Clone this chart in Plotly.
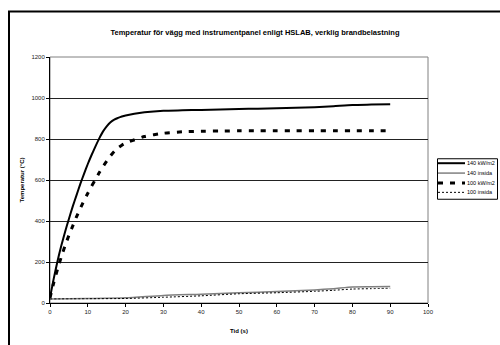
import plotly.graph_objects as go

# ---- data ----
t_140 = [0, 1, 2, 3, 4, 5, 6, 7, 8, 9, 10, 11, 12, 13, 14, 15, 16, 17, 18, 19, 20,
         25, 30, 35, 40, 45, 50, 55, 60, 65, 70, 75, 80, 85, 90]
v_140 = [25, 120, 205, 280, 348, 410, 470, 525, 580, 630, 678, 722, 763, 802, 836,
         862, 882, 895, 903, 910, 915, 930, 938, 940, 942, 944, 946, 948, 950, 952,
         955, 960, 966, 968, 970]

t_140i = [0, 10, 20, 30, 40, 50, 60, 70, 75, 80, 85, 90]
v_140i = [20, 22, 25, 37, 43, 50, 56, 64, 70, 78, 79, 80]

t_100 = [0, 1, 2, 3, 4, 5, 6, 7, 8, 9, 10, 11, 12, 13, 14, 15, 16, 17, 18, 19, 20,
         25, 30, 35, 40, 45, 50, 55, 60, 65, 70, 75, 80, 85, 90]
v_100 = [25, 100, 165, 225, 280, 330, 375, 420, 460, 500, 535, 570, 602, 635, 665,
         692, 718, 740, 757, 770, 780, 812, 828, 835, 838, 839, 840, 840, 840, 840,
         840, 840, 840, 840, 840]

t_100i = [0, 10, 20, 30, 40, 50, 60, 70, 75, 80, 85, 90]
v_100i = [20, 21, 22, 28, 35, 45, 50, 57, 62, 68, 70, 72]

series_names = ["140 kW/m2", "140 insida", "100 kW/m2", "100 insida"]

x_ticks = [0, 10, 20, 30, 40, 50, 60, 70, 80, 90, 100]
y_ticks = [0, 200, 400, 600, 800, 1000, 1200]

title = "Temperatur för vägg med instrumentpanel enligt HSLAB, verklig brandbelastning"
x_title = "Tid (s)"
y_title = "Temperatur (°C)"

FONT = "Liberation Sans, Arial, sans-serif"

styles = [
    dict(color="black", width=2),
    dict(color="#808080", width=1.5),
    dict(color="black", width=3, dash="5px,7px"),
    dict(color="black", width=1, dash="2px,2px"),
]

fig = go.Figure()
for (tx, vy), name, st in zip([(t_140, v_140), (t_140i, v_140i), (t_100, v_100),
                               (t_100i, v_100i)], series_names, styles):
    fig.add_trace(go.Scatter(x=tx, y=vy, mode="lines", name=name, line=st,
                             line_shape="spline", line_smoothing=0.6,
                             showlegend=False))

W, H = 500, 345
L, R, T, B = 50, 72, 57, 39
pw, ph = W - L - R, H - T - B

def px(x):
    return (x - L) / pw

def py(y):
    return (H - B - y) / ph

shapes = [
    dict(type="rect", xref="paper", yref="paper", x0=0, x1=1, y0=0, y1=1,
         line=dict(color="#808080", width=1), layer="below"),
    dict(type="rect", xref="paper", yref="paper",
         x0=px(9), x1=px(505), y0=py(350), y1=py(11),
         line=dict(color="black", width=2), layer="below"),
    # legend box
    dict(type="rect", xref="paper", yref="paper",
         x0=px(437.5), x1=px(497.5), y0=py(201), y1=py(160),
         line=dict(color="black", width=1), fillcolor="white"),
]
annotations = []
rows = [164.5, 174.5, 184.5, 194]
for name, st, ry in zip(series_names, styles, rows):
    shapes.append(dict(type="line", xref="paper", yref="paper",
                       x0=px(438), x1=px(465), y0=py(ry), y1=py(ry),
                       line=dict(color=st["color"], width=st["width"],
                                 dash=st.get("dash", "solid"))))
    annotations.append(dict(xref="paper", yref="paper", x=px(465), y=py(ry),
                            xanchor="left", yanchor="middle", showarrow=False,
                            text=name, font=dict(family=FONT, size=5.5, color="black")))

fig.update_layout(
    width=W, height=H,
    margin=dict(l=L, r=R, t=T, b=B),
    paper_bgcolor="white", plot_bgcolor="white",
    font=dict(family=FONT, size=6, color="#222"),
    title=dict(text="<b>" + title + "</b>", x=px(255), xref="paper", xanchor="center",
               y=1 - 32 / H, yanchor="middle",
               font=dict(family=FONT, size=7.5, color="black")),
    showlegend=False,
    xaxis=dict(range=[0, 100], tickvals=x_ticks, showgrid=False, zeroline=False,
               showline=True, linecolor="black", linewidth=1,
               ticks="outside", ticklen=3, tickcolor="black",
               tickfont=dict(size=6, color="#222"),
               title=dict(text="<b>" + x_title + "</b>", standoff=14,
                          font=dict(size=6, color="black"))),
    yaxis=dict(range=[0, 1200], tickvals=y_ticks, showgrid=True, gridcolor="#222",
               gridwidth=1, zeroline=False,
               showline=True, linecolor="black", linewidth=1,
               ticks="outside", ticklen=3, tickcolor="black",
               tickfont=dict(size=6, color="#222"),
               title=dict(text="<b>" + y_title + "</b>", standoff=6,
                          font=dict(size=6, color="black"))),
    shapes=shapes,
    annotations=annotations,
)

fig.write_html("out.html")
